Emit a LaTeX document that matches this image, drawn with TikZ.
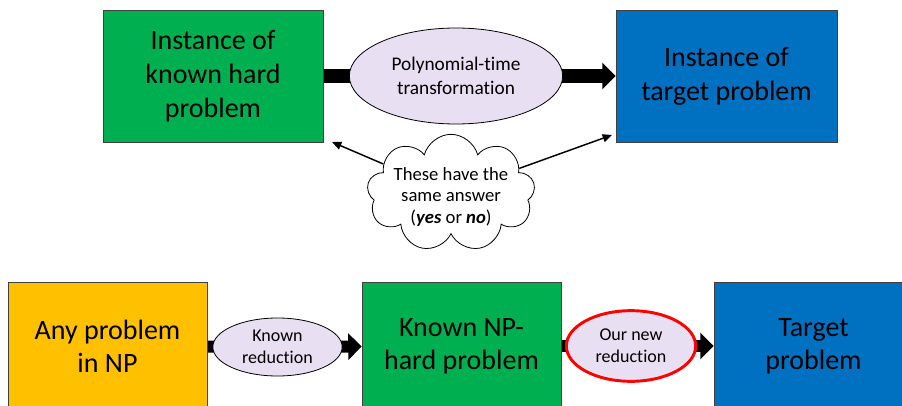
\documentclass[tikz,border=0pt]{standalone}
\usepackage{fontspec}
\setmainfont{Carlito}[Ligatures=NoCommon]
\usetikzlibrary{arrows.meta,backgrounds,shapes.geometric,shapes.symbols}
\definecolor{ppgreen}{RGB}{0,176,80}
\definecolor{ppblue}{RGB}{0,112,192}
\definecolor{ppyellow}{RGB}{255,192,0}
\definecolor{pplavender}{RGB}{233,223,242}
\definecolor{ppred}{RGB}{255,0,0}
\newcommand{\cloudtext}[1]{\makebox[0pt]{\smash{\raisebox{-7pt}{\begin{tabular}{@{}c@{}}#1\end{tabular}}}}}
\tikzset{
  caja/.style={
    draw=black!75,
    line width=.6pt,
    align=center,
    inner sep=0pt,
    minimum width=165pt,
    minimum height=99pt,
    font=\fontsize{21}{25.5}\selectfont
  },
  cajita/.style={
    caja,
    minimum width=149.25pt,
    minimum height=96pt,
    font=\fontsize{21}{25}\selectfont
  },
  ovalo/.style={
    ellipse,
    draw=black,
    line width=.6pt,
    fill=pplavender,
    align=center,
    inner sep=0pt,
    minimum width=160pt,
    minimum height=72pt,
    font=\fontsize{14.5}{17.5}\selectfont
  },
  ovalito/.style={
    ovalo,
    minimum width=97pt,
    minimum height=43.5pt,
    font=\fontsize{13.5}{16.5}\selectfont
  },
  nube/.style={
    cloud,
    cloud puffs=9,
    cloud ignores aspect,
    draw=black,
    line width=.6pt,
    fill=white,
    inner sep=0pt,
    minimum width=126pt,
    minimum height=88pt,
    font=\fontsize{14}{16}\selectfont
  },
  barra/.style={
    line width=10pt,
    black
  },
  flechagorda/.style={
    barra,
    -{Triangle[length=10pt,width=19.5pt]}
  },
  flechita/.style={
    line width=1.1pt,
    -{Triangle[length=7pt,width=6pt]}
  }
}

\begin{document}
\begin{tikzpicture}[x=0.75pt,y=-0.75pt]
\useasboundingbox (0,0) rectangle (902,406);
% top row
\node[caja,fill=ppgreen] (known) at (213,76) {Instance of\\known hard\\problem};
\node[caja,fill=ppblue,minimum width=165.75pt] (target) at (726.5,76) {Instance of\\target problem};
\node[ovalo] (poly) at (456,76) {Polynomial-time\\transformation};
\begin{scope}[on background layer]
\draw[barra] (known) -- (poly.center);
\draw[flechagorda] (poly.center) -- (target);
\end{scope}
% same answer
\node[nube] (same) at (451,193) {\cloudtext{These have the\\same answer\\(\textbf{\textit{yes}} or \textbf{\textit{no}})}};
\coordinate (lefttip) at (332,142);
\coordinate (righttip) at (612,135);
\draw[flechita] (same) -- (lefttip);
\draw[flechita] (same) -- (righttip);
% bottom row
\node[cajita,fill=ppyellow] (anynp) at (107.5,346) {Any problem\\in NP};
\node[cajita,fill=ppgreen] (nphard) at (461.5,346) {Known NP-\\hard problem};
\node[cajita,fill=ppblue] (tgt) at (813.5,346) {Target\\problem};
\node[ovalito] (knownred) at (277.5,347) {Known\\reduction};
\node[ovalito,draw=ppred,line width=2.2pt,minimum height=53pt] (newred) at (631,346) {Our new\\reduction};
\begin{scope}[on background layer]
\draw[barra,line width=9pt] (anynp) -- (knownred.center);
\draw[flechagorda,line width=9pt] (knownred.center) -- (nphard);
\draw[barra,line width=9pt] (nphard) -- (newred.center);
\draw[flechagorda,line width=9pt] (newred.center) -- (tgt);
\end{scope}
\end{tikzpicture}
\end{document}
